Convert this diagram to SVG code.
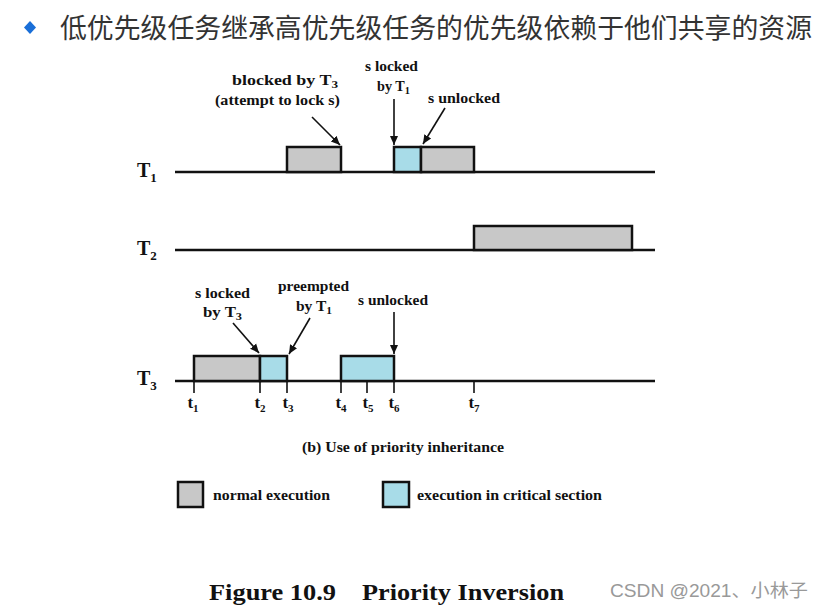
<svg xmlns="http://www.w3.org/2000/svg" width="823" height="610" viewBox="0 0 823 610">
<style>
.lbl{font-family:"Liberation Serif","Times New Roman",serif;font-weight:bold;fill:#111;}
.ann{font-size:15px;}
.tl{font-size:20px;}
.tk{font-size:17px;}
.ln{stroke:#111;stroke-width:2.5;fill:none;}
.n{fill:#c8c8c8;stroke:#111;stroke-width:2.5;}
.c{fill:#a8dce8;stroke:#111;stroke-width:2.5;}
.ar{stroke:#111;stroke-width:1.6;fill:none;marker-end:url(#ah);}
.tick{stroke:#111;stroke-width:1.6;}
</style>
<defs>
<marker id="ah" markerWidth="10" markerHeight="10" refX="9" refY="5" orient="auto" markerUnits="userSpaceOnUse">
<path d="M0,1 L9,5 L0,9 Z" fill="#111"/>
</marker>
</defs>
<rect width="823" height="610" fill="#fff"/>
<g id="header">
<path d="M30,21 L36,27.5 L30,34 L24,27.5 Z" fill="#1a6fd8"/>
<text x="60" y="38" font-family="'Noto Sans CJK SC',sans-serif" font-size="27" fill="#333" textLength="752" lengthAdjust="spacingAndGlyphs">低优先级任务继承高优先级任务的优先级依赖于他们共享的资源</text>
</g>
<g id="T1">
<text class="lbl tl" x="137" y="177">T<tspan font-size="13" dy="5">1</tspan></text>
<line class="ln" x1="175" y1="172" x2="655" y2="172"/>
<rect class="n" x="287" y="147" width="54" height="25"/>
<rect class="c" x="394" y="147" width="27" height="25"/>
<rect class="n" x="421" y="147" width="53" height="25"/>
</g>
<g id="T2">
<text class="lbl tl" x="137" y="255">T<tspan font-size="13" dy="5">2</tspan></text>
<line class="ln" x1="175" y1="250" x2="655" y2="250"/>
<rect class="n" x="474" y="226" width="158" height="24"/>
</g>
<g id="T3">
<text class="lbl tl" x="137" y="385">T<tspan font-size="13" dy="5">3</tspan></text>
<line class="ln" x1="175" y1="381" x2="655" y2="381"/>
<rect class="n" x="194" y="356" width="66" height="25"/>
<rect class="c" x="260" y="356" width="27" height="25"/>
<rect class="c" x="341" y="356" width="53" height="25"/>
</g>
<g id="ticks">
<line class="tick" x1="194" y1="381" x2="194" y2="393"/>
<line class="tick" x1="260" y1="381" x2="260" y2="393"/>
<line class="tick" x1="287" y1="381" x2="287" y2="393"/>
<line class="tick" x1="341" y1="381" x2="341" y2="393"/>
<line class="tick" x1="367" y1="381" x2="367" y2="393"/>
<line class="tick" x1="394" y1="381" x2="394" y2="393"/>
<line class="tick" x1="474" y1="381" x2="474" y2="393"/>
<text class="lbl tk" x="193" y="408" text-anchor="middle">t<tspan font-size="11" dy="4">1</tspan></text>
<text class="lbl tk" x="260" y="408" text-anchor="middle">t<tspan font-size="11" dy="4">2</tspan></text>
<text class="lbl tk" x="288" y="408" text-anchor="middle">t<tspan font-size="11" dy="4">3</tspan></text>
<text class="lbl tk" x="341" y="408" text-anchor="middle">t<tspan font-size="11" dy="4">4</tspan></text>
<text class="lbl tk" x="368" y="408" text-anchor="middle">t<tspan font-size="11" dy="4">5</tspan></text>
<text class="lbl tk" x="394" y="408" text-anchor="middle">t<tspan font-size="11" dy="4">6</tspan></text>
<text class="lbl tk" x="474" y="408" text-anchor="middle">t<tspan font-size="11" dy="4">7</tspan></text>
</g>
<g id="annotations">
<text class="lbl ann" x="232" y="85" textLength="106" lengthAdjust="spacingAndGlyphs">blocked by T<tspan font-size="11" dy="3">3</tspan></text>
<text class="lbl ann" x="215" y="105" textLength="125" lengthAdjust="spacingAndGlyphs">(attempt to lock s)</text>
<text class="lbl ann" x="365" y="71" textLength="53" lengthAdjust="spacingAndGlyphs">s locked</text>
<text class="lbl ann" x="377" y="91" textLength="33" lengthAdjust="spacingAndGlyphs">by T<tspan font-size="11" dy="3">1</tspan></text>
<text class="lbl ann" x="428" y="103" textLength="72" lengthAdjust="spacingAndGlyphs">s unlocked</text>
<text class="lbl ann" x="195" y="298" textLength="55" lengthAdjust="spacingAndGlyphs">s locked</text>
<text class="lbl ann" x="203" y="317" textLength="39" lengthAdjust="spacingAndGlyphs">by T<tspan font-size="11" dy="3">3</tspan></text>
<text class="lbl ann" x="278" y="291" textLength="71" lengthAdjust="spacingAndGlyphs">preempted</text>
<text class="lbl ann" x="296" y="311" textLength="36" lengthAdjust="spacingAndGlyphs">by T<tspan font-size="11" dy="3">1</tspan></text>
<text class="lbl ann" x="358" y="305" textLength="70" lengthAdjust="spacingAndGlyphs">s unlocked</text>
</g>
<g id="connectors">
<line class="ar" x1="312" y1="117" x2="340" y2="145"/>
<line class="ar" x1="394" y1="99" x2="394" y2="145"/>
<line class="ar" x1="445" y1="108" x2="423" y2="144"/>
<line class="ar" x1="233" y1="323" x2="259" y2="353"/>
<line class="ar" x1="310" y1="318" x2="289" y2="354"/>
<line class="ar" x1="394" y1="312" x2="394" y2="354"/>
</g>
<g id="caption">
<text class="lbl" font-size="14.5" x="302" y="452" textLength="202" lengthAdjust="spacingAndGlyphs">(b) Use of priority inheritance</text>
</g>
<g id="legend">
<rect class="n" x="178" y="482" width="25" height="25"/>
<text class="lbl" font-size="14.5" x="213" y="500" textLength="117" lengthAdjust="spacingAndGlyphs">normal execution</text>
<rect class="c" x="383" y="482" width="26" height="25"/>
<text class="lbl" font-size="14.5" x="417" y="500" textLength="185" lengthAdjust="spacingAndGlyphs">execution in critical section</text>
</g>
<g id="title">
<text class="lbl" font-size="23.5" x="209" y="600" textLength="127" lengthAdjust="spacingAndGlyphs">Figure 10.9</text>
<text class="lbl" font-size="23.5" x="362" y="600" textLength="202" lengthAdjust="spacingAndGlyphs">Priority Inversion</text>
<text x="610" y="597" font-family="'Liberation Sans','Noto Sans CJK SC',sans-serif" font-size="18" fill="#999" textLength="198" lengthAdjust="spacingAndGlyphs">CSDN @2021、小林子</text>
</g>
</svg>
